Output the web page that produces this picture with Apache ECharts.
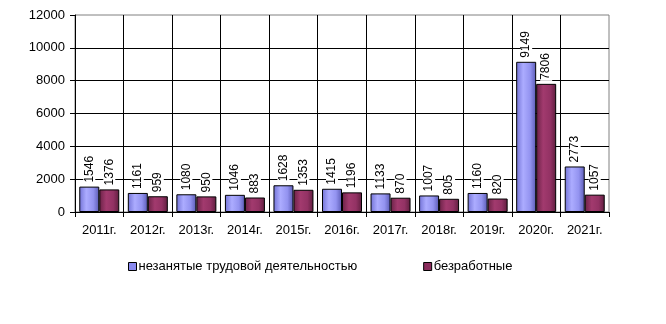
<!DOCTYPE html>
<html>
<head>
<meta charset="utf-8">
<script src="https://cdn.jsdelivr.net/npm/echarts@6/dist/echarts.min.js"></script>
<style>
  html, body { margin: 0; padding: 0; background: #fff; }
  #chart { width: 666px; height: 324px; }
</style>
</head>
<body>
<div id="chart"></div>
<script>
// Years on the category axis
const years = ['2011г.', '2012г.', '2013г.', '2014г.', '2015г.', '2016г.', '2017г.', '2018г.', '2019г.', '2020г.', '2021г.'];
// People not engaged in employment
const notEmployed = [1546, 1161, 1080, 1046, 1628, 1415, 1133, 1007, 1160, 9149, 2773];
// Registered unemployed
const unemployed = [1376, 959, 950, 883, 1353, 1196, 870, 805, 820, 7806, 1057];
const seriesNames = ['незанятые трудовой деятельностью', 'безработные'];

const font = 'Arial, "Liberation Sans", sans-serif';

function hGrad(stops) {
  return new echarts.graphic.LinearGradient(0, 0, 1, 0, stops.map((c) => ({ offset: c[0], color: c[1] })));
}
const blueFill = hGrad([[0, '#7272d6'], [0.35, '#acacff'], [0.7, '#9393f0'], [1, '#5a5ab4']]);
const redFill = hGrad([[0, '#6a2246'], [0.35, '#a23a6e'], [0.7, '#933264'], [1, '#5e1e3e']]);

const label = {
  show: true,
  position: 'top',
  rotate: 90,
  align: 'left',
  verticalAlign: 'middle',
  distance: 3,
  color: '#000',
  fontFamily: font,
  fontSize: 12,
  backgroundColor: '#fff',
  padding: [0, 1]
};

const chart = echarts.init(document.getElementById('chart'), null, { renderer: 'canvas' });
chart.setOption({
  animation: false,
  backgroundColor: '#fff',
  grid: {
    left: 75, right: 57, top: 15, bottom: 112,
    show: true, borderColor: '#808080', borderWidth: 1
  },
  legend: {
    left: 128, top: 260, padding: 0,
    itemWidth: 8, itemHeight: 8, itemGap: 66,
    icon: 'rect',
    textStyle: { fontFamily: font, fontSize: 13, color: '#000', padding: [0, 0, 0, -3] },
    data: [
      { name: seriesNames[0], itemStyle: { color: '#8a8af0', borderColor: '#000', borderWidth: 1 } },
      { name: seriesNames[1], itemStyle: { color: '#8a2c5c', borderColor: '#000', borderWidth: 1 } }
    ]
  },
  xAxis: {
    type: 'category',
    data: years,
    axisLine: { lineStyle: { color: '#000', width: 1 } },
    axisTick: { show: true, length: 5, lineStyle: { color: '#000' } },
    axisLabel: { color: '#000', fontFamily: font, fontSize: 13, margin: 12 },
    splitLine: { show: true, showMinLine: false, showMaxLine: false, lineStyle: { color: '#000', width: 1 } }
  },
  yAxis: {
    type: 'value',
    min: 0, max: 12000, interval: 2000,
    axisLine: { show: true, lineStyle: { color: '#000', width: 1 } },
    axisTick: { show: true, length: 5, lineStyle: { color: '#000' } },
    axisLabel: { color: '#000', fontFamily: font, fontSize: 13, margin: 10, formatter: (v) => String(v) },
    splitLine: { show: true, showMinLine: false, showMaxLine: false, lineStyle: { color: '#000', width: 1 } }
  },
  series: [
    {
      name: seriesNames[0], type: 'bar', data: notEmployed,
      barWidth: 20, barGap: '0%',
      itemStyle: { color: blueFill, borderColor: '#000', borderWidth: 1 },
      label: label
    },
    {
      name: seriesNames[1], type: 'bar', data: unemployed,
      barWidth: 20, barGap: '0%',
      itemStyle: { color: redFill, borderColor: '#000', borderWidth: 1 },
      label: label
    }
  ]
});
</script>
</body>
</html>
